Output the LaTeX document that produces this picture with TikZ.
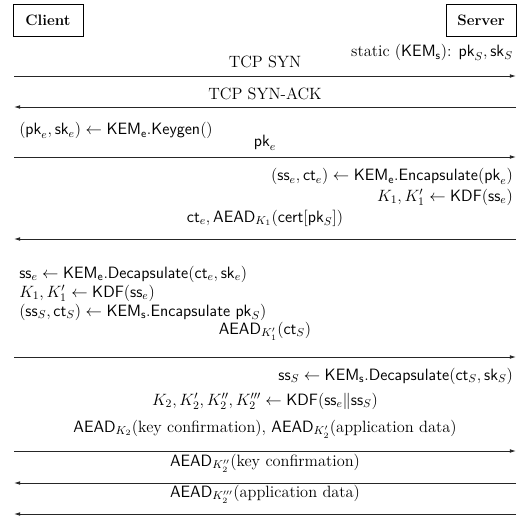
\documentclass[tikz,border=0pt]{standalone}
\usepackage{fix-cm}
\usetikzlibrary{arrows.meta}
\newcommand{\mys}[1]{\mathsf{#1}}
\tikzset{
  party/.style={draw=black, line width=0.64pt, minimum width=55.6pt, minimum height=25.4pt, inner sep=0pt, font=\fontsize{12}{14}\selectfont\bfseries},
  msg/.style={line width=0.64pt, draw=black!85},
  tip/.style={-{Latex[length=4.8pt,width=2.9pt]}},
  lbl/.style={anchor=base, inner sep=0pt, font=\fontsize{13}{15}\selectfont},
  lbll/.style={lbl, anchor=base west},
  lblr/.style={lbl, anchor=base east},
  big/.style={font=\fontsize{13}{15}\selectfont},
}
\begin{document}
\begin{tikzpicture}[x=0.7937pt,y=-0.7937pt]
\useasboundingbox (0,0) rectangle (521,521);
\node[party] (client) at (48,20.5) {Client};
\node[party] (server) at (481,20.5) {Server};
% line end coordinates
\foreach \n/\y in {1/76,2/107,3/157,4/239,5/357,6/451,7/483,8/514}{
  \coordinate (c\n) at (14,\y);
  \coordinate (s\n) at (516,\y);
}
\draw[msg,tip] (c1) -- (s1);
\draw[msg,tip] (s2) -- (c2);
\draw[msg,tip] (c3) -- (s3);
\draw[msg,tip] (s4) -- (c4);
\draw[msg,tip] (c5) -- (s5);
\draw[msg,tip] (c6) -- (s6);
\draw[msg,tip] (s7) -- (c7);
\draw[msg,tip] (s8) -- (c8);
% labels
\node[lblr] (t0) at (513,57) {static $(\mys{KEM_s})$: $\mys{pk}_S, \mys{sk}_S$};
\node[lbl,big] (t1) at (265,68) {TCP SYN};
\node[lbl,big] (t2) at (265,100) {TCP SYN-ACK};
\node[lbll] (t3) at (19,135) {$(\mys{pk}_e, \mys{sk}_e) \leftarrow \mys{KEM_e.Keygen}()$};
\node[lbl] (t4) at (265,147) {$\mys{pk}_e$};
\node[lblr] (t5) at (513,181) {$(\mys{ss}_e, \mys{ct}_e) \leftarrow \mys{KEM_e.Encapsulate}(\mys{pk}_e)$};
\node[lblr] (t6) at (513,201) {$K_1, K_1' \leftarrow \mys{KDF}(\mys{ss}_e)$};
\node[lbl] (t7) at (265,222) {$\mys{ct}_e, \mys{AEAD}_{K_1}(\mys{cert}[\mys{pk}_S])$};
\node[lbll] (t8) at (19,278) {$\mys{ss}_e \leftarrow \mys{KEM_e.Decapsulate}(\mys{ct}_e, \mys{sk}_e)$};
\node[lbll] (t9) at (19,297) {$K_1, K_1' \leftarrow \mys{KDF}(\mys{ss}_e)$};
\node[lbll] (t10) at (19,316) {$(\mys{ss}_S, \mys{ct}_S) \leftarrow \mys{KEM_s.Encapsulate}\ \mys{pk}_S)$};
\node[lbl] (t11) at (265,334) {$\mys{AEAD}_{K_1'}(\mys{ct}_S)$};
\node[lblr] (t12) at (513,380) {$\mys{ss}_S \leftarrow \mys{KEM_s.Decapsulate}(\mys{ct}_S, \mys{sk}_S)$};
\node[lbl] (t13) at (265,405) {$K_2, K_2', K_2'', K_2''' \leftarrow \mys{KDF}(\mys{ss}_e \| \mys{ss}_S)$};
\node[lbl] (t14) at (265,432) {$\mys{AEAD}_{K_2}$(key confirmation), $\mys{AEAD}_{K_2'}$(application data)};
\node[lbl] (t15) at (265,466) {$\mys{AEAD}_{K_2''}$(key confirmation)};
\node[lbl] (t16) at (265,497) {$\mys{AEAD}_{K_2'''}$(application data)};
\end{tikzpicture}
\end{document}
